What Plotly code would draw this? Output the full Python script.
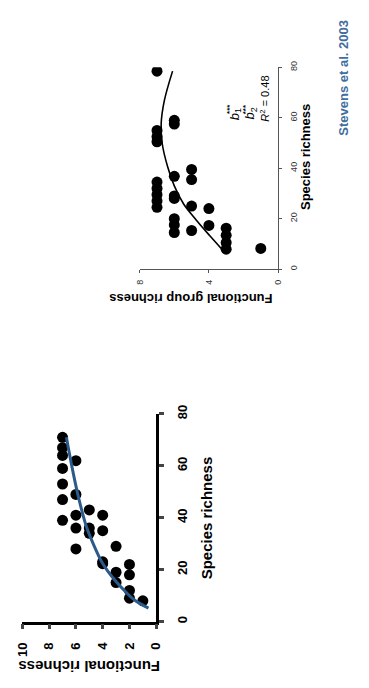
import plotly.graph_objects as go

W, H = 369, 688

# ---- Panel A: functional richness vs species richness ----
species_a = [71, 67, 64, 59, 53, 47, 39,
             62, 49, 41, 36, 28,
             43, 36, 34,
             41, 35, 23, 22.3,
             29, 19, 15,
             22, 18, 12, 9,
             8]
func_a = [7, 7, 7, 7, 7, 7, 7,
          6, 6, 6, 6, 6,
          5, 5, 5,
          4, 4, 4, 4,
          3, 3, 3,
          2, 2, 2, 2,
          1]
fit_species_a = [5.2, 8, 11, 16, 22.4, 28.7, 36.3, 47.7, 59.2, 71]
fit_func_a = [0.58, 1.55, 2.2, 3.1, 4.0, 4.6, 5.2, 5.8, 6.28, 6.71]

# ---- Panel B: functional group richness vs species richness ----
species_b = [78.5, 55, 52.5, 50.5, 34.5, 32, 29.5, 27, 24.5,
             59, 57.5, 36.8, 29, 28, 20, 17.5, 14.5,
             39.5, 35.5, 25, 15.3,
             24, 17.3,
             16.2, 13.4, 10.5, 7.9,
             8.2]
func_b = [7] * 9 + [6] * 8 + [5] * 4 + [4] * 2 + [3] * 4 + [1]
fit_species_b = [7.5, 13.4, 19.3, 25.8, 33, 40.7, 49.8, 57.6, 66.7, 78.5]
fit_func_b = [3.2, 3.97, 4.71, 5.46, 6.0, 6.39, 6.7, 6.76, 6.58, 6.1]

ticks_a_func = [0, 2, 4, 6, 8, 10]
ticks_species = [0, 20, 40, 60, 80]
ticks_b_func = [0, 4, 8]

BLUE = "#2c5a8a"
TEXT_BLUE = "#3f6e9e"
FONT = "Liberation Sans, Arial, sans-serif"


def fx(p):
    return p / W


def fy(p):
    return 1 - p / H


fig = go.Figure()

fig.add_trace(go.Scatter(x=func_a, y=species_a, mode="markers",
                         marker=dict(color="black", size=11),
                         xaxis="x", yaxis="y", showlegend=False))
fig.add_trace(go.Scatter(x=fit_func_a, y=fit_species_a, mode="lines",
                         line=dict(color=BLUE, width=3, shape="spline"),
                         xaxis="x", yaxis="y", showlegend=False))

fig.add_trace(go.Scatter(x=func_b, y=species_b, mode="markers",
                         marker=dict(color="black", size=11),
                         xaxis="x2", yaxis="y2", showlegend=False))
fig.add_trace(go.Scatter(x=fit_func_b, y=fit_species_b, mode="lines",
                         line=dict(color="black", width=1.6, shape="spline"),
                         xaxis="x2", yaxis="y2", showlegend=False))

bold_tick = dict(family=FONT, size=13, color="black", weight="bold")
thin_tick = dict(family=FONT, size=9, color="#333")

fig.update_layout(
    width=W, height=H,
    margin=dict(l=0, r=0, t=0, b=0),
    paper_bgcolor="white", plot_bgcolor="white",
    xaxis=dict(domain=[fx(15), fx(154.5)], range=[10, 0], anchor="y",
               tickvals=ticks_a_func, ticks="outside", ticklen=5, tickwidth=2.5,
               showline=True, linewidth=2.5, linecolor="black",
               showgrid=False, zeroline=False, tickangle=-90,
               tickfont=bold_tick, ticklabelstandoff=8),
    yaxis=dict(domain=[fy(622.5), fy(411.5)], range=[0, 80], anchor="x",
               side="right", tickvals=ticks_species, ticks="outside",
               ticklen=5, tickwidth=2.5, showline=True, linewidth=2.5,
               linecolor="black", showgrid=False, zeroline=False,
               tickangle=-90, tickfont=bold_tick, ticklabelstandoff=7),
    xaxis2=dict(domain=[fx(137.3), fx(281.5)], range=[8, 0], anchor="y2",
                tickvals=ticks_b_func, ticks="outside", ticklen=3, tickwidth=1,
                showline=True, linewidth=1, linecolor="#555", tickcolor="#555",
                showgrid=False, zeroline=False, tickangle=-90,
                tickfont=thin_tick, ticklabelstandoff=3),
    yaxis2=dict(domain=[fy(264.3), fy(59.3)], range=[0, 80], anchor="x2",
                side="right", tickvals=ticks_species, ticks="outside",
                ticklen=3, tickwidth=1, showline=True, linewidth=1,
                linecolor="#555", tickcolor="#555", showgrid=False,
                zeroline=False, tickangle=-90, tickfont=thin_tick,
                ticklabelstandoff=4),
)


def note(text, x, y, angle, size, color="black", bold=True):
    fig.add_annotation(text=text, x=fx(x), y=fy(y), xref="paper", yref="paper",
                       textangle=angle, showarrow=False, xanchor="center",
                       yanchor="middle",
                       font=dict(family=FONT, size=size, color=color,
                                 weight="bold" if bold else "normal"))


# axis titles
note("Functional richness", 85, 668, 180, 15)
note("Species richness", 207, 517, -90, 15)
note("Functional group richness", 190.5, 293.5, 180, 13)
note("Species richness", 310, 150, -90, 13)

# model statistics
note("<i>b</i><sub>1</sub>", 237, 106.5, -90, 13, bold=False)
note("***", 231, 102, -90, 8, bold=True)
note("<i>b</i><sub>2</sub>", 253, 106.5, -90, 13, bold=False)
note("***", 247, 102, -90, 8, bold=True)
note("<i>R</i><sup>2</sup> = 0.48", 267.5, 91.5, -90, 11, bold=False)

# source
note("Stevens et al. 2003", 350, 70, -90, 13, color=TEXT_BLUE)

fig.write_html("out.html")
